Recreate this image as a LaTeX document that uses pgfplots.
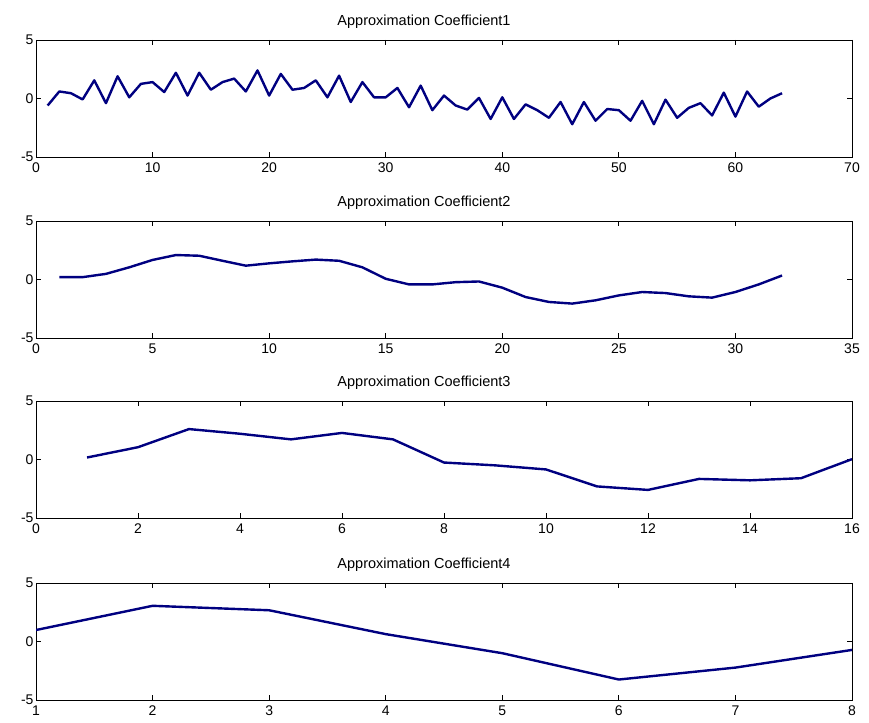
\documentclass[border=0pt]{standalone}
\usepackage{pgfplots}
\pgfplotsset{compat=1.18}
\usepackage{fontspec}
\setmainfont{Liberation Sans}
\definecolor{navyline}{RGB}{0,0,128}
\pgfplotsset{mat/.style={
  scale only axis, width=816pt, height=117pt, anchor=south west,
  ymin=-5, ymax=5, ytick={-5,0,5},
  tick align=inside, tick pos=both, major tick length=5pt,
  axis line style={black, line width=0.8pt},
  every tick/.style={black, line width=0.8pt},
  ticklabel style={font=\fontsize{14}{14}\selectfont},
  xticklabel style={yshift=-2pt},
  yticklabel style={xshift=1pt},
  /pgf/number format/assume math mode=true,
  title style={font=\fontsize{14.5}{14.5}\selectfont, yshift=2pt, xshift=-20pt},
}}
\tikzset{ln/.style={navyline, line width=2.4pt, line join=round, no marks}}
\begin{document}
\begin{tikzpicture}[x=1pt,y=1pt]
\useasboundingbox (0,0) rectangle (869,722);
\begin{axis}[mat, at={(36pt,565pt)}, xmin=0, xmax=70, xtick={0,10,...,70}, title={Approximation Coefficient1}]
\addplot[ln] coordinates {
(1,-0.6) (2,0.6) (3,0.45) (4,-0.08) (5,1.55) (6,-0.4) (7,1.9) (8,0.1)
(9,1.25) (10,1.4) (11,0.55) (12,2.2) (13,0.25) (14,2.2) (15,0.75) (16,1.4)
(17,1.7) (18,0.6) (19,2.4) (20,0.25) (21,2.1) (22,0.75) (23,0.9) (24,1.55)
(25,0.1) (26,1.95) (27,-0.3) (28,1.4) (29,0.1) (30,0.1) (31,0.9) (32,-0.75)
(33,1.1) (34,-1.0) (35,0.25) (36,-0.6) (37,-0.95) (38,0.05) (39,-1.75) (40,0.1)
(41,-1.75) (42,-0.5) (43,-1.0) (44,-1.65) (45,-0.3) (46,-2.2) (47,-0.3) (48,-1.9)
(49,-0.9) (50,-1.0) (51,-1.9) (52,-0.2) (53,-2.2) (54,-0.1) (55,-1.65) (56,-0.8)
(57,-0.4) (58,-1.45) (59,0.5) (60,-1.55) (61,0.6) (62,-0.7) (63,0.0) (64,0.45)
};
\end{axis}
\begin{axis}[mat, at={(36pt,384pt)}, xmin=0, xmax=35, xtick={0,5,...,35}, title={Approximation Coefficient2}]
\addplot[ln] coordinates {
(1,0.2) (2,0.2) (3,0.48) (4,1.04) (5,1.67) (6,2.09) (7,2.03) (8,1.6)
(9,1.18) (10,1.38) (11,1.55) (12,1.7) (13,1.6) (14,1.04) (15,0.06) (16,-0.42)
(17,-0.42) (18,-0.23) (19,-0.17) (20,-0.7) (21,-1.5) (22,-1.92) (23,-2.06) (24,-1.78)
(25,-1.36) (26,-1.07) (27,-1.16) (28,-1.44) (29,-1.55) (30,-1.07) (31,-0.42) (32,0.34)
};
\end{axis}
\begin{axis}[mat, at={(36pt,204pt)}, xmin=0, xmax=16, xtick={0,2,...,16}, title={Approximation Coefficient3}]
\addplot[ln] coordinates {
(1,0.17) (2,1.05) (3,2.6) (4,2.2) (5,1.72) (6,2.27) (7,1.72) (8,-0.26)
(9,-0.5) (10,-0.85) (11,-2.3) (12,-2.6) (13,-1.66) (14,-1.78) (15,-1.6) (16,0.03)
};
\end{axis}
\begin{axis}[mat, at={(36pt,22pt)}, xmin=1, xmax=8, xtick={1,...,8}, title={Approximation Coefficient4}]
\addplot[ln] coordinates {
(1,0.98) (2,3.05) (3,2.67) (4,0.63) (5,-1.0) (6,-3.25) (7,-2.23) (8,-0.72)
};
\end{axis}
\end{tikzpicture}
\end{document}
